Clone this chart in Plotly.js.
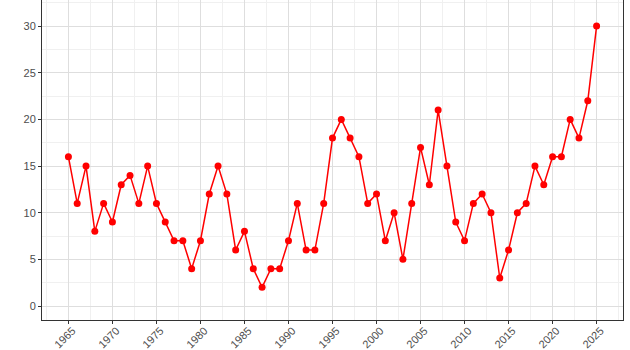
<!DOCTYPE html>
<html><head><meta charset="utf-8">
<script src="https://cdn.plot.ly/plotly-3.0.1.min.js"></script>
<style>html,body{margin:0;padding:0;background:#fff}#chart{width:630px;height:350px}</style>
</head><body><div id="chart"></div>
<script>
const years = [1965,1966,1967,1968,1969,1970,1971,1972,1973,1974,1975,1976,1977,1978,1979,1980,1981,1982,1983,1984,1985,1986,1987,1988,1989,1990,1991,1992,1993,1994,1995,1996,1997,1998,1999,2000,2001,2002,2003,2004,2005,2006,2007,2008,2009,2010,2011,2012,2013,2014,2015,2016,2017,2018,2019,2020,2021,2022,2023,2024,2025];
const counts = [16,11,15,8,11,9,13,14,11,15,11,9,7,7,4,7,12,15,12,6,8,4,2,4,4,7,11,6,6,11,18,20,18,16,11,12,7,10,5,11,17,13,21,15,9,7,11,12,10,3,6,10,11,15,13,16,16,20,18,22,30];
const xTicks = [1965,1970,1975,1980,1985,1990,1995,2000,2005,2010,2015,2020,2025];
const yTicks = [0,5,10,15,20,25,30];

Plotly.newPlot('chart', [{
  x: years, y: counts, type: 'scatter', mode: 'lines+markers',
  line: {color: '#ff0000', width: 1.5},
  marker: {color: '#ff0000', size: 7},
  hoverinfo: 'skip'
}], {
  width: 630, height: 350,
  margin: {l: 42, r: 7, t: 0, b: 30},
  paper_bgcolor: '#ffffff', plot_bgcolor: '#ffffff',
  showlegend: false,
  font: {family: 'Liberation Sans, Arial, sans-serif', size: 11, color: '#4d4d4d'},
  xaxis: {
    range: [1962, 2028], tickmode: 'array', tickvals: xTicks, ticktext: xTicks.map(String),
    tickangle: -45, ticks: 'outside', ticklen: 3, tickcolor: '#333333',
    ticklabelstandoff: -4, ticklabelshift: 4,
    showline: true, linecolor: '#333333', linewidth: 1,
    showgrid: true, gridcolor: '#dedede', gridwidth: 1, zeroline: false,
    minor: {dtick: 2.5, tick0: 1962.5, showgrid: true, gridcolor: '#f0f0f0', gridwidth: 1},
    tickfont: {size: 11, color: '#4d4d4d'}
  },
  yaxis: {
    range: [-1.5, 32.8], tickmode: 'array', tickvals: yTicks,
    ticks: 'outside', ticklen: 3, tickcolor: '#333333',
    showline: true, linecolor: '#333333', linewidth: 1, mirror: true,
    showgrid: true, gridcolor: '#dedede', gridwidth: 1, zeroline: false,
    minor: {dtick: 2.5, tick0: 0, showgrid: true, gridcolor: '#f0f0f0', gridwidth: 1},
    tickfont: {size: 11, color: '#4d4d4d'}
  }
}, {displayModeBar: false, staticPlot: true});
</script></body></html>
